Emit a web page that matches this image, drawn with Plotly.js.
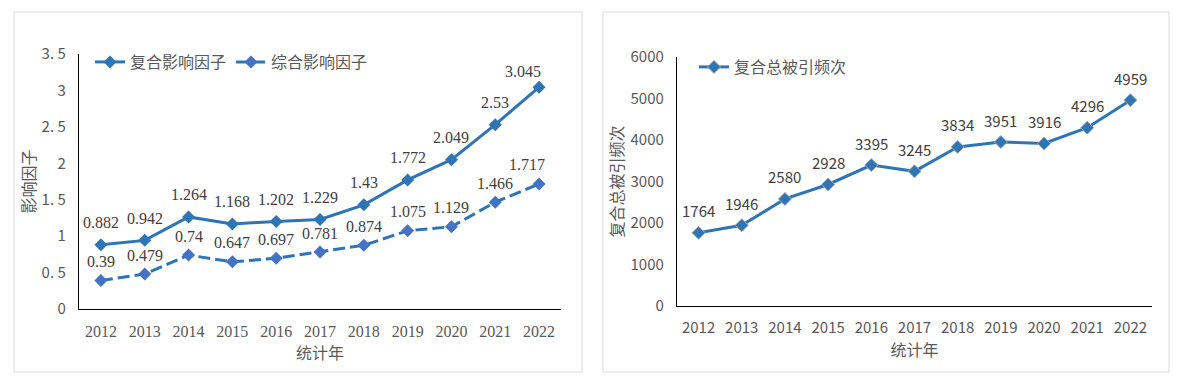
<!DOCTYPE html>
<html>
<head>
<meta charset="utf-8">
<script src="https://cdn.plot.ly/plotly-3.0.1.min.js"></script>
<style>html,body{margin:0;padding:0;background:#fff;}#chart{width:1190px;height:382px;}</style>
</head>
<body>
<div id="chart"></div>
<script>
const years = ['2012','2013','2014','2015','2016','2017','2018','2019','2020','2021','2022'];
const compositeIF = [0.882,0.942,1.264,1.168,1.202,1.229,1.43,1.772,2.049,2.53,3.045];
const comprehensiveIF = [0.39,0.479,0.74,0.647,0.697,0.781,0.874,1.075,1.129,1.466,1.717];
const citations = [1764,1946,2580,2928,3395,3245,3834,3951,3916,4296,4959];
const leftYTickVals = [0,0.5,1,1.5,2,2.5,3,3.5];
const leftYTickText = ['0','0. 5','1','1. 5','2','2. 5','3','3. 5'];
const rightYTickVals = [0,1000,2000,3000,4000,5000,6000];

const W = 1190, H = 382;
const px = v => v / W;
const py = v => 1 - v / H;
const CJK = '"Noto Sans CJK SC", "Noto Sans", sans-serif';
const SERIF = '"Liberation Serif", "DejaVu Serif", serif';
const GREY = '#595959';
const BLUE = '#2E75B6';
const BLUE2 = '#4472C4';

const traces = [
  {x: years, y: compositeIF, name: '复合影响因子', type: 'scatter', mode: 'lines+markers',
   line: {color: BLUE, width: 3}, marker: {symbol: 'diamond', size: 10, color: BLUE},
   xaxis: 'x', yaxis: 'y', legend: 'legend', hoverinfo: 'skip'},
  {x: years, y: comprehensiveIF, name: '综合影响因子', type: 'scatter', mode: 'lines+markers',
   line: {color: BLUE, width: 3, dash: '12px,5px'}, marker: {symbol: 'diamond', size: 10, color: BLUE2},
   xaxis: 'x', yaxis: 'y', legend: 'legend', hoverinfo: 'skip'},
  {x: years, y: citations, name: '复合总被引频次', type: 'scatter', mode: 'lines+markers',
   line: {color: BLUE, width: 3}, marker: {symbol: 'diamond', size: 10, color: BLUE, line: {color: '#A6A6A6', width: 1}},
   xaxis: 'x2', yaxis: 'y2', legend: 'legend2', hoverinfo: 'skip'}
];

// category axes: annotation x uses the category index of each year
const annotations = [];
const last = years.length - 1;
compositeIF.forEach((v, i) => annotations.push({x: i, y: v, xref: 'x', yref: 'y', text: String(v), showarrow: false,
  yshift: i === last ? 16 : 22, xshift: i === last ? -16 : 0, font: {family: SERIF, size: 16, color: '#404040'}}));
comprehensiveIF.forEach((v, i) => annotations.push({x: i, y: v, xref: 'x', yref: 'y', text: String(v), showarrow: false,
  yshift: 19, xshift: i === last ? -12 : 0, font: {family: SERIF, size: 16, color: '#404040'}}));
citations.forEach((v, i) => annotations.push({x: i, y: v, xref: 'x2', yref: 'y2', text: String(v), showarrow: false,
  yshift: 22, font: {family: CJK, size: 15, color: '#404040'}}));

const axisCommon = {showgrid: false, zeroline: false, showline: true, linecolor: '#000', linewidth: 1.2, ticks: '', fixedrange: true};

const layout = {
  width: W, height: H,
  margin: {l: 0, r: 0, t: 0, b: 0},
  paper_bgcolor: '#fff', plot_bgcolor: 'rgba(0,0,0,0)',
  showlegend: true,
  xaxis: Object.assign({}, axisCommon, {domain: [px(79), px(561)], type: 'category', range: [-0.5, 10.5],
    tickfont: {family: SERIF, size: 16, color: GREY}, ticklabelstandoff: 8,
    title: {text: '统计年', font: {family: CJK, size: 16, color: GREY}, standoff: 8}, anchor: 'y'}),
  yaxis: Object.assign({}, axisCommon, {domain: [py(309), py(54)], range: [0, 3.5],
    tickvals: leftYTickVals, ticktext: leftYTickText, tickfont: {family: CJK, size: 15, color: GREY}, ticklabelstandoff: 9,
    title: {text: '影响因子', font: {family: CJK, size: 16, color: GREY}, standoff: 2}, anchor: 'x'}),
  xaxis2: Object.assign({}, axisCommon, {domain: [px(677), px(1152)], type: 'category', range: [-0.5, 10.5],
    tickfont: {family: CJK, size: 15, color: GREY}, ticklabelstandoff: 8,
    title: {text: '统计年', font: {family: CJK, size: 16, color: GREY}, standoff: 6}, anchor: 'y2'}),
  yaxis2: Object.assign({}, axisCommon, {domain: [py(306), py(57)], range: [0, 6000],
    tickvals: rightYTickVals, tickfont: {family: CJK, size: 15, color: GREY}, ticklabelstandoff: 9,
    title: {text: '复合总被引频次', font: {family: CJK, size: 16, color: GREY}, standoff: -3}, anchor: 'x2'}),
  legend: {orientation: 'h', x: px(90), y: py(62), xanchor: 'left', yanchor: 'middle',
    font: {family: CJK, size: 16, color: GREY}, bgcolor: 'rgba(0,0,0,0)', itemclick: false, itemdoubleclick: false},
  legend2: {orientation: 'h', x: px(694), y: py(67), xanchor: 'left', yanchor: 'middle',
    font: {family: CJK, size: 16, color: GREY}, bgcolor: 'rgba(0,0,0,0)', itemclick: false, itemdoubleclick: false},
  shapes: [
    {type: 'rect', xref: 'paper', yref: 'paper', x0: px(14), x1: px(582), y0: py(372), y1: py(12), line: {color: '#D9D9D9', width: 1}, layer: 'below'},
    {type: 'rect', xref: 'paper', yref: 'paper', x0: px(603), x1: px(1169), y0: py(372), y1: py(12), line: {color: '#D9D9D9', width: 1}, layer: 'below'}
  ],
  annotations: annotations
};

Plotly.newPlot('chart', traces, layout, {staticPlot: true, displayModeBar: false});
</script>
</body>
</html>
